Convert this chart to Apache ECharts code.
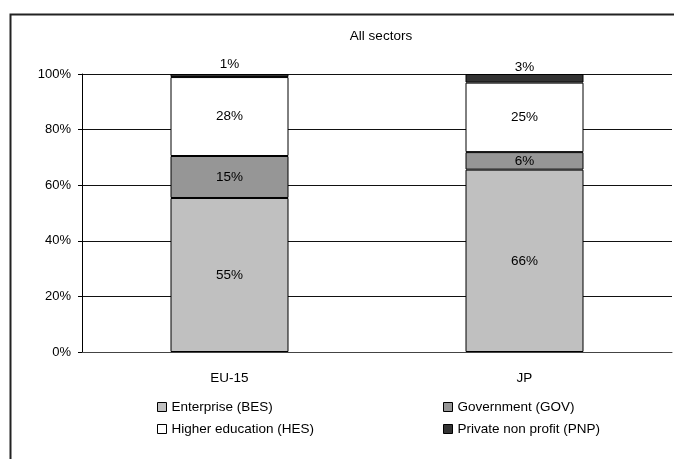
<!DOCTYPE html>
<html>
<head>
<meta charset="utf-8">
<script src="https://cdn.jsdelivr.net/npm/echarts@6/dist/echarts.min.js"></script>
<style>
  html, body { margin: 0; padding: 0; background: #fff; }
  #chart { width: 674px; height: 459px; }
</style>
</head>
<body>
<div id="chart"></div>
<script>
// categories and shares (%) per sector
const regions = ['EU-15', 'JP']
const sectorNames = ['Enterprise (BES)', 'Government (GOV)', 'Higher education (HES)', 'Private non profit (PNP)']
const besValues = [55.4, 65.6]
const govValues = [15.1, 6.3]
const hesValues = [28.4, 25.0]
const pnpValues = [1.1, 3.1]
const yTicks = [0, 20, 40, 60, 80, 100]

const colors = ['#c0c0c0', '#969696', '#ffffff', '#333333']
const font = 'Liberation Sans, Arial, sans-serif'

const myChart = echarts.init(document.getElementById('chart'))

const seriesData = [besValues, govValues, hesValues, pnpValues]
const series = sectorNames.map((name, i) => {
  const isTop = i === 3
  return {
    name: name,
    type: 'bar',
    stack: 'all',
    barWidth: '40%',
    data: seriesData[i].map((v, j) => {
      // 1% label of EU-15 sits a little higher in the original
      if (isTop && j === 0) return { value: v, label: { offset: [0, -3] } }
      return v
    }),
    itemStyle: { color: colors[i], borderColor: '#000', borderWidth: 1 },
    label: {
      show: true,
      position: isTop ? 'top' : 'inside',
      distance: 0,
      color: '#000',
      fontFamily: font,
      fontSize: 13.5,
      formatter: p => Math.round(p.value) + '%'
    }
  }
})

const legendCommon = {
  orient: 'vertical',
  icon: 'rect',
  padding: 0,
  itemWidth: 9,
  itemHeight: 9,
  itemGap: 8,
  top: 400,
  textStyle: { color: '#000', fontFamily: font, fontSize: 13.5 },
  itemStyle: { borderColor: '#000', borderWidth: 1 }
}

const option = {
  animation: false,
  title: {
    text: 'All sectors',
    left: 376,
    top: 24,
    textAlign: 'center',
    textStyle: { color: '#000', fontFamily: font, fontSize: 13.5, fontWeight: 'normal' }
  },
  // outer frame of the chart box
  graphic: [{
    type: 'rect',
    left: 8,
    top: 12,
    shape: { width: 700, height: 500 },
    style: { fill: 'none', stroke: '#222', lineWidth: 2 }
  }],
  legend: [
    Object.assign({ left: 157, data: [sectorNames[0], sectorNames[2]] }, legendCommon),
    Object.assign({ left: 443, data: [sectorNames[1], sectorNames[3]] }, legendCommon)
  ],
  grid: { left: 82, right: 2, top: 74, bottom: 107 },
  xAxis: {
    type: 'category',
    data: regions,
    axisLine: { lineStyle: { color: '#444' } },
    axisTick: { show: false },
    axisLabel: { color: '#000', fontFamily: font, fontSize: 13.5, margin: 19 }
  },
  yAxis: {
    type: 'value',
    min: yTicks[0],
    max: yTicks[yTicks.length - 1],
    interval: 20,
    axisLine: { show: true, lineStyle: { color: '#000' } },
    axisTick: { show: true, length: 4, lineStyle: { color: '#000' } },
    splitLine: { lineStyle: { color: '#111' } },
    axisLabel: { color: '#000', fontFamily: font, fontSize: 13, margin: 11, formatter: '{value}%' }
  },
  series: series
}

myChart.setOption(option)
</script>
</body>
</html>
